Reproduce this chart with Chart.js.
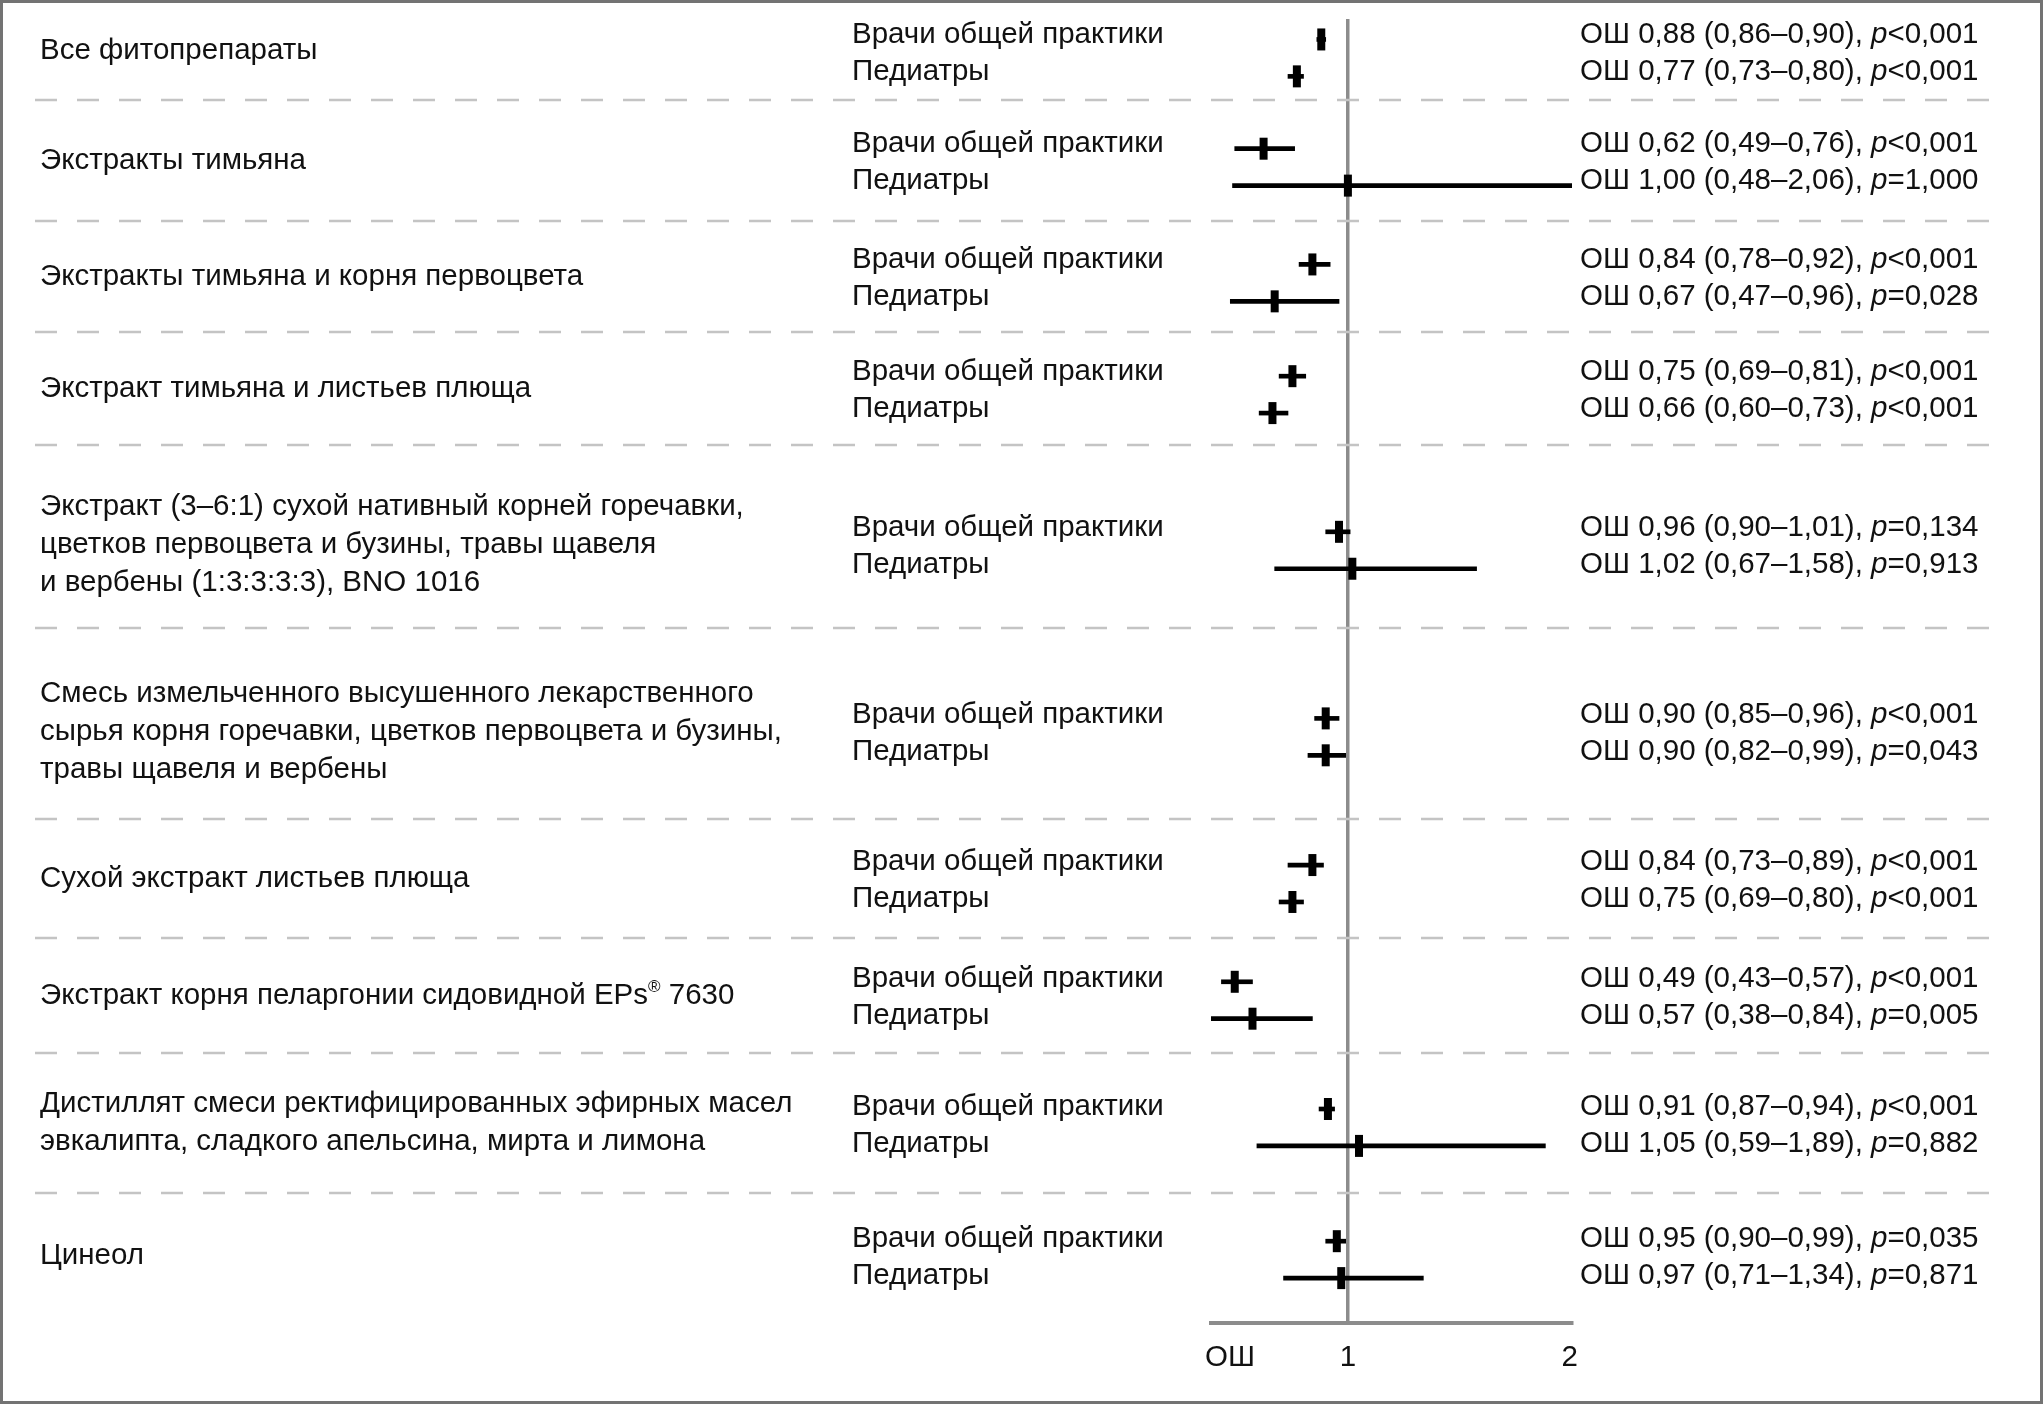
<!DOCTYPE html>
<html lang="ru">
<head>
<meta charset="utf-8">
<title>ОШ назначения фитопрепаратов</title>
<script src="https://cdn.jsdelivr.net/npm/chart.js@4.4.1/dist/chart.umd.min.js"></script>
<style>
  html, body { margin: 0; padding: 0; background: #fff; overflow: hidden; }
  #wrap { width: 2043px; height: 1404px; position: relative; }
</style>
</head>
<body>
<div id="wrap"><canvas id="forest" width="2043" height="1404"></canvas></div>
<script>
// preparations (line breaks as in the figure)
const drugs = [
  'Все фитопрепараты',
  'Экстракты тимьяна',
  'Экстракты тимьяна и корня первоцвета',
  'Экстракт тимьяна и листьев плюща',
  'Экстракт (3–6:1) сухой нативный корней горечавки,\nцветков первоцвета и бузины, травы щавеля\nи вербены (1:3:3:3:3), BNO 1016',
  'Смесь измельченного высушенного лекарственного\nсырья корня горечавки, цветков первоцвета и бузины,\nтравы щавеля и вербены',
  'Сухой экстракт листьев плюща',
  'Экстракт корня пеларгонии сидовидной EPs® 7630',
  'Дистиллят смеси ректифицированных эфирных масел\nэвкалипта, сладкого апельсина, мирта и лимона',
  'Цинеол'
];
const doctorGroups = ['Врачи общей практики', 'Педиатры'];

// general practitioners
const gpOr = [0.88, 0.62, 0.84, 0.75, 0.96, 0.90, 0.84, 0.49, 0.91, 0.95];
const gpLo = [0.86, 0.49, 0.78, 0.69, 0.90, 0.85, 0.73, 0.43, 0.87, 0.90];
const gpHi = [0.90, 0.76, 0.92, 0.81, 1.01, 0.96, 0.89, 0.57, 0.94, 0.99];
const gpP = ['<0,001', '<0,001', '<0,001', '<0,001', '=0,134', '<0,001', '<0,001', '<0,001', '<0,001', '=0,035'];

// pediatricians
const pedOr = [0.77, 1.00, 0.67, 0.66, 1.02, 0.90, 0.75, 0.57, 1.05, 0.97];
const pedLo = [0.73, 0.48, 0.47, 0.60, 0.67, 0.82, 0.69, 0.38, 0.59, 0.71];
const pedHi = [0.80, 2.06, 0.96, 0.73, 1.58, 0.99, 0.80, 0.84, 1.89, 1.34];
const pedP = ['<0,001', '=1,000', '=0,028', '<0,001', '=0,913', '=0,043', '<0,001', '=0,005', '=0,882', '=0,871'];

const axisTicks = [1, 2];
const axisTitle = 'ОШ';

// layout (px)
const groupHeights = [98, 121, 111, 113, 183, 191, 119, 115, 140, 125];
const layoutTop = 2;
const rowGap = 37;
const plotTop = 16, plotBottom = 1323;
const gray = '#8c8c8c';
const textColor = '#111';
const font = '"Liberation Sans", Arial, Helvetica, sans-serif';
const fontSize = 29.5;

const centers = [];
const seps = [];
let cursor = layoutTop;
drugs.forEach((d, i) => {
  const lines = d.split('\n').length;
  centers.push(cursor + groupHeights[i] / 2 + (lines > 2 ? 12 : 4));
  cursor += groupHeights[i];
  seps.push(cursor);
});
seps.pop();

const gpY = centers.map(c => c - rowGap / 2);
const pedY = centers.map(c => c + rowGap / 2);

const ciData = [];
const pointData = [];
drugs.forEach((d, i) => {
  ciData.push({ y: gpY[i], x: [gpLo[i], gpHi[i]] });
  ciData.push({ y: pedY[i], x: [pedLo[i], pedHi[i]] });
  pointData.push({ x: gpOr[i], y: gpY[i] });
  pointData.push({ x: pedOr[i], y: pedY[i] });
});

const fmt = v => v.toFixed(2).replace('.', ',');

function drawLabel(ctx, text, x, y) {
  // ® is raised and smaller
  const parts = text.split('®');
  ctx.font = fontSize + 'px ' + font;
  ctx.fillText(parts[0], x, y);
  if (parts.length > 1) {
    let px = x + ctx.measureText(parts[0]).width;
    ctx.font = '17px ' + font;
    ctx.fillText('®', px, y - 8);
    px += ctx.measureText('®').width;
    ctx.font = fontSize + 'px ' + font;
    ctx.fillText(parts[1], px, y);
  }
}

function drawStat(ctx, or, lo, hi, p, x, y) {
  const head = 'ОШ ' + fmt(or) + ' (' + fmt(lo) + '–' + fmt(hi) + '), ';
  ctx.font = fontSize + 'px ' + font;
  ctx.fillText(head, x, y);
  let px = x + ctx.measureText(head).width;
  ctx.font = 'italic ' + fontSize + 'px ' + font;
  ctx.fillText('p', px, y);
  px += ctx.measureText('p').width;
  ctx.font = fontSize + 'px ' + font;
  ctx.fillText(p, px, y);
}

const forestDecor = {
  id: 'forestDecor',
  beforeDraw(chart) {
    const ctx = chart.ctx;
    ctx.save();
    ctx.fillStyle = '#fff';
    ctx.fillRect(0, 0, chart.width, chart.height);
    ctx.restore();
  },
  beforeDatasetsDraw(chart) {
    const ctx = chart.ctx;
    ctx.save();
    ctx.strokeStyle = '#c4c4c4';
    ctx.lineWidth = 2.5;
    ctx.setLineDash([22, 20]);
    seps.forEach(s => {
      ctx.beginPath();
      ctx.moveTo(35, s);
      ctx.lineTo(1993, s);
      ctx.stroke();
    });
    ctx.restore();
  },
  afterDraw(chart) {
    const ctx = chart.ctx;
    ctx.save();
    ctx.fillStyle = textColor;
    ctx.textBaseline = 'middle';
    ctx.textAlign = 'left';

    drugs.forEach((d, i) => {
      const lines = d.split('\n');
      const mid = centers[i] - 4;
      lines.forEach((ln, k) => {
        drawLabel(ctx, ln, 40, mid + (k - (lines.length - 1) / 2) * 38);
      });
      ctx.font = fontSize + 'px ' + font;
      ctx.fillText(doctorGroups[0], 852, gpY[i] - 2);
      ctx.fillText(doctorGroups[1], 852, pedY[i] - 2);
      drawStat(ctx, gpOr[i], gpLo[i], gpHi[i], gpP[i], 1580, gpY[i] - 2);
      drawStat(ctx, pedOr[i], pedLo[i], pedHi[i], pedP[i], 1580, pedY[i] - 2);
    });

    ctx.font = fontSize + 'px ' + font;
    ctx.fillText(axisTitle, 1205, 1358);

    // frame
    ctx.strokeStyle = '#737373';
    ctx.lineWidth = 3;
    ctx.strokeRect(1.5, 1.5, chart.width - 3, chart.height - 3);
    ctx.restore();
  }
};

new Chart(document.getElementById('forest'), {
  type: 'scatter',
  data: {
    datasets: [
      {
        type: 'bar',
        indexAxis: 'y',
        data: ciData,
        backgroundColor: '#000',
        borderWidth: 0,
        barThickness: 4,
        grouped: false,
        clip: 0
      },
      {
        type: 'scatter',
        data: pointData,
        pointStyle: 'line',
        pointRotation: 90,
        pointRadius: 11,
        pointHoverRadius: 11,
        pointBorderWidth: 8,
        pointBorderColor: '#000',
        pointBackgroundColor: '#000'
      }
    ]
  },
  options: {
    responsive: false,
    devicePixelRatio: 1,
    animation: false,
    events: [],
    layout: { padding: { left: 1211, right: 471, top: plotTop, bottom: 0 } },
    plugins: { legend: { display: false }, tooltip: { enabled: false } },
    scales: {
      x: {
        type: 'linear',
        min: 0.383,
        max: 2.01,
        offset: false,
        afterBuildTicks: s => { s.ticks = axisTicks.map(v => ({ value: v })); },
        afterFit: s => { s.height = 1404 - plotBottom; },
        grid: {
          offset: false,
          color: c => (c.tick && c.tick.value === 1 ? gray : 'rgba(0,0,0,0)'),
          lineWidth: 3.5,
          drawTicks: false
        },
        border: { display: true, color: gray, width: 4 },
        ticks: {
          padding: 17,
          autoSkip: false,
          maxRotation: 0,
          color: textColor,
          font: { family: font, size: fontSize },
          callback: v => String(v)
        }
      },
      y: {
        type: 'linear',
        display: false,
        reverse: true,
        offset: false,
        grid: { offset: false },
        min: plotTop,
        max: plotBottom
      }
    }
  },
  plugins: [forestDecor]
});
</script>
</body>
</html>
